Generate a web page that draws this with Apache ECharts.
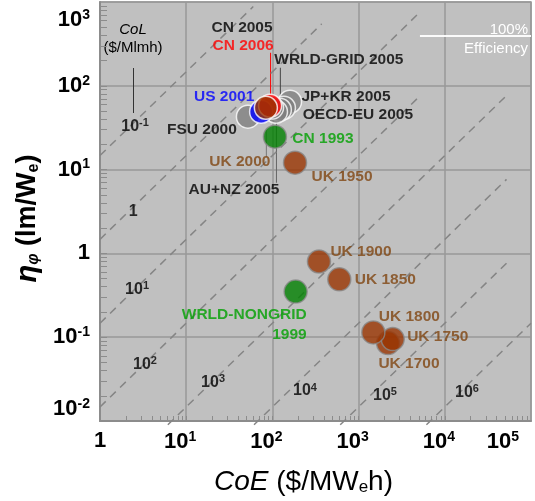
<!DOCTYPE html>
<html>
<head>
<meta charset="UTF-8">
<title>CoE vs luminous efficacy</title>
<script src="https://cdn.jsdelivr.net/npm/echarts@6/dist/echarts.min.js"></script>
<style>
  html, body { margin: 0; background: #fff; }
  #chart { width: 535px; height: 501px; }
</style>
</head>
<body>
<div id="chart"></div>
<script>
// data points, listed back to front (later ones drawn on top)
const names = ['JP+KR 2005', 'OECD-EU 2005', 'WRLD-GRID 2005', 'AU+NZ 2005', 'CN 2005', 'FSU 2000',
  'US 2001', 'CN 2006', 'UK 2000', 'CN 1993', 'UK 1950', 'UK 1900', 'UK 1850',
  'WRLD-NONGRID\n1999', 'UK 1700', 'UK 1750', 'UK 1800'];
const coe = [160, 136, 122, 110, 99, 52, 74, 94, 84, 107, 183, 347, 597, 186, 2193, 2488, 1482];
const eff = [64.5, 54.7, 51.8, 49, 55, 42.8, 49, 57.8, 54.7, 24.7, 12.1, 0.80, 0.49, 0.35, 0.085, 0.095, 0.114];
const kind = ['grid', 'grid', 'grid', 'grid', 'grid', 'grid', 'us', 'cn', 'uk', 'green', 'uk', 'uk', 'uk',
  'green', 'uk', 'uk', 'uk'];

// constant cost-of-light lines ($/Mlmh) and where their labels sit
const colValues = [0.1, 1, 10, 100, 1e3, 1e4, 1e5, 1e6];
const colFactor = 1.47;           // eff = colFactor * CoE / CoL
const colEndCoE = [60, 373, 5150, 5150, 5.2e4, 5.2e4, 5.2e4, 1e5];   // CoE where each line stops
const colLabelCoE = [2.55, 2.42, 2.69, 3.33, 20.5, 239, 2024, 18100];
const colLabelEff = [32.5, 3.16, 0.373, 0.0477, 0.0291, 0.0228, 0.0199, 0.0221];

const fullEfficiency = 400;       // lm/W at 100% efficiency
const fullEffFrom = 5150;         // CoE where the white line starts
const xTicks = [1, 10, 100, 1e3, 1e4, 1e5];
const yTicks = [0.01, 0.1, 1, 10, 100, 1000];

const FONT = 'Arial, "Liberation Sans", Helvetica, sans-serif';
const look = {
  grid:  { fill: '#808080', text: '#000000' },
  us:    { fill: '#0000ff', text: '#0000ff' },
  cn:    { fill: '#ff0000', text: '#ff0000' },
  uk:    { fill: '#993300', text: '#7f4510' },
  green: { fill: '#008000', text: '#00a000' }
};
const whiteRim = new Set(['JP+KR 2005', 'OECD-EU 2005', 'WRLD-GRID 2005', 'AU+NZ 2005', 'CN 2005',
  'FSU 2000', 'US 2001', 'CN 2006', 'UK 2000']);

// label offset from the point centre, px
const labelAt = {
  'JP+KR 2005': [56, -5], 'OECD-EU 2005': [74, 7], 'WRLD-GRID 2005': [59, -50],
  'AU+NZ 2005': [-42, 78], 'CN 2005': [-30, -80], 'FSU 2000': [-46, 13], 'US 2001': [-37, -15],
  'CN 2006': [-27, -60], 'UK 2000': [-26, 54], 'CN 1993': [48, 2], 'UK 1950': [47, 14],
  'UK 1900': [42, -10], 'UK 1850': [46, 0], 'WRLD-NONGRID\n1999': [11, 33],
  'UK 1700': [21, 21], 'UK 1750': [45, -2], 'UK 1800': [36, -16]
};
// leader lines: [from dy, to dy, colour]
const leaders = {
  'CN 2006': [-53, -11, '#ff0000'],
  'WRLD-GRID 2005': [-42, -11, '#444'],
  'AU+NZ 2005': [10, 71, '#666'],
  'UK 2000': [22, 49, '#777']
};

function logLabel(v) {
  const n = Math.round(Math.log10(v));
  return n === 0 ? '{b|1}' : '{b|10}{s|' + n + '}';
}
function yLabel(v) {
  const n = Math.round(Math.log10(v));
  return v >= 999 ? '{t|10}{ts|' + n + '}' : logLabel(v);
}

const points = names.map((n, i) => {
  const k = look[kind[i]];
  return {
    name: n,
    value: [coe[i], eff[i]],
    itemStyle: { color: k.fill, borderColor: whiteRim.has(n) ? '#ffffff' : '#8a8a8a', borderWidth: 1.5 },
    label: {
      show: true, position: 'inside', offset: labelAt[n], formatter: n,
      align: n.indexOf('\n') >= 0 ? 'right' : 'center',
      color: k.text, fontSize: 15.5, fontWeight: 'bold', fontFamily: FONT, lineHeight: 20
    }
  };
});

const colLines = colValues.map((c, i) => {
  const start = Math.max(1, 0.009 * c / colFactor);
  const end = colEndCoE[i];
  return {
    type: 'line', silent: true, symbol: 'none', clip: false, z: 1,
    data: [[start, colFactor * start / c], [end, colFactor * end / c]],
    lineStyle: { color: '#858585', width: 1.5, type: [8, 6] }
  };
});

const minorX = [], minorY = [];
for (let d = 1; d < 1e5; d *= 10) for (let m = 1; m < 10; m++) minorX.push(d * m);
for (let d = 0.01; d < 999; d *= 10) for (let m = 1; m < 10; m++) minorY.push(+(d * m).toPrecision(3));

const big = { fontSize: 22, fontWeight: 'bold', fontFamily: FONT, color: '#000' };
const small = { fontSize: 14, fontWeight: 'bold', fontFamily: FONT, color: '#000', verticalAlign: 'top' };
const yRich = {
  b: big,
  s: Object.assign({}, small, { padding: [0, 0, 10, 0] }),
  t: Object.assign({}, big, { padding: [6, 0, 0, 0] }),
  ts: Object.assign({}, small, { padding: [6, 0, 10, 0] })
};
const xRich = {
  b: big,
  s: Object.assign({}, small, { padding: [0, 12, 10, 0] })
};
const colRich = {
  b: { fontSize: 16, fontWeight: 'bold', fontFamily: FONT, color: '#000' },
  s: { fontSize: 11, fontWeight: 'bold', fontFamily: FONT, color: '#000', verticalAlign: 'top', padding: [0, 0, 7, 0] }
};

const chart = echarts.init(document.getElementById('chart'));
chart.setOption({
  animation: false,
  grid: { left: 100, right: 4, top: 2, bottom: 80, show: true, backgroundColor: '#c0c0c0', borderColor: '#9a9a9a', borderWidth: 1.5 },
  xAxis: [{
    type: 'log', logBase: 10, min: 1, max: 1e5,
    axisLine: { show: true, lineStyle: { color: '#8c8c8c', width: 2 } },
    axisTick: { show: false },
    splitLine: { show: true, lineStyle: { color: '#999', width: 1.5 } },
    axisLabel: { formatter: logLabel, rich: xRich, margin: 9, alignMaxLabel: 'right', customValues: xTicks },
    name: '{i|CoE}{n| ($/MW}{sub|e}{n|h)}', nameLocation: 'middle', nameGap: 47,
    nameTextStyle: {
      padding: [0, 24, 0, 0],
      rich: {
        i: { fontSize: 28, fontStyle: 'italic', fontFamily: FONT, color: '#000' },
        n: { fontSize: 28, fontFamily: FONT, color: '#000' },
        sub: { fontSize: 17, fontFamily: FONT, color: '#000', verticalAlign: 'bottom', padding: [9, 0, 0, 0] }
      }
    }
  }, {
    type: 'log', logBase: 10, min: 1, max: 1e5, position: 'bottom',
    axisLine: { show: false }, splitLine: { show: false }, axisLabel: { show: false },
    axisTick: { show: true, inside: true, length: 5, customValues: minorX, lineStyle: { color: '#8c8c8c', width: 1 } }
  }],
  yAxis: [{
    type: 'log', logBase: 10, min: 0.01, max: 1000,
    axisLine: { show: true, lineStyle: { color: '#8c8c8c', width: 2 } },
    axisTick: { show: false },
    splitLine: { show: true, lineStyle: { color: '#999', width: 1.5 } },
    axisLabel: { formatter: yLabel, rich: yRich, margin: 10, verticalAlignMaxLabel: 'top',
      verticalAlignMinLabel: 'bottom', customValues: yTicks },
    name: '{i|η}{isub|φ}{n| (lm/W}{sub|e}{n|)}', nameLocation: 'middle', nameGap: 58, nameRotate: 90,
    nameTextStyle: {
      padding: [0, 14, 0, 0],
      rich: {
        i: { fontSize: 29, fontStyle: 'italic', fontWeight: 'bold', fontFamily: FONT, color: '#000' },
        isub: { fontSize: 16, fontStyle: 'italic', fontWeight: 'bold', fontFamily: FONT, color: '#000', verticalAlign: 'bottom', padding: [9, 0, 0, 0] },
        n: { fontSize: 27, fontWeight: 'bold', fontFamily: FONT, color: '#000' },
        sub: { fontSize: 16, fontWeight: 'bold', fontFamily: FONT, color: '#000', verticalAlign: 'bottom', padding: [9, 0, 0, 0] }
      }
    }
  }, {
    type: 'log', logBase: 10, min: 0.01, max: 1000, position: 'left',
    axisLine: { show: false }, splitLine: { show: false }, axisLabel: { show: false },
    axisTick: { show: true, inside: true, length: 7, customValues: minorY, lineStyle: { color: '#8c8c8c', width: 1 } }
  }],
  series: [
    ...colLines,
    {
      type: 'scatter', silent: true, symbolSize: 0, z: 3,
      data: colLabelCoE.map((x, i) => ({
        value: [x, colLabelEff[i]],
        label: { show: true, position: 'inside', formatter: logLabel(colValues[i]), rich: colRich }
      }))
    },
    {
      type: 'line', silent: true, data: [], symbol: 'none', z: 3,
      markLine: {
        silent: true, symbol: 'none',
        lineStyle: { color: '#ffffff', width: 1.5, type: 'solid' },
        label: { color: '#ffffff', fontSize: 15, fontFamily: FONT },
        data: [
          [{ coord: [fullEffFrom, fullEfficiency], label: { formatter: '100%', position: 'insideEndTop', distance: [3, -2] } },
            { coord: [1e5, fullEfficiency] }],
          [{ coord: [fullEffFrom, fullEfficiency], label: { formatter: 'Efficiency', position: 'insideEndBottom', distance: [3, 6] } },
            { coord: [1e5, fullEfficiency] }]
        ]
      }
    },
    {
      type: 'scatter', silent: true, symbolSize: 23, z: 4,
      data: points
    }
  ]
});

// leader lines from labels to their points, plus the CoL heading
const g = [];
names.forEach((n, i) => {
  const L = leaders[n];
  if (!L) return;
  const p = chart.convertToPixel({ xAxisIndex: 0, yAxisIndex: 0 }, [coe[i], eff[i]]);
  g.push({ type: 'line', z: 1, silent: true,
    shape: { x1: p[0] + 0.5, y1: p[1] + L[0], x2: p[0] + 0.5, y2: p[1] + L[1] },
    style: { stroke: L[2], lineWidth: 1 } });
});
g.push({ type: 'text', x: 133, y: 30, silent: true, style: { text: 'CoL', fill: '#000', font: 'italic 15px ' + FONT, align: 'center', verticalAlign: 'middle' } });
g.push({ type: 'text', x: 133, y: 48, silent: true, style: { text: '($/Mlmh)', fill: '#000', font: '15px ' + FONT, align: 'center', verticalAlign: 'middle' } });
g.push({ type: 'line', silent: true, shape: { x1: 133.5, y1: 68, x2: 133.5, y2: 113 }, style: { stroke: '#333', lineWidth: 1 } });
chart.setOption({ graphic: g });
</script>
</body>
</html>
